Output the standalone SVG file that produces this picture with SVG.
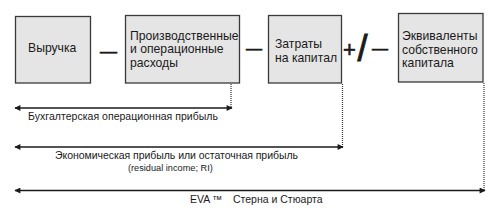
<svg xmlns="http://www.w3.org/2000/svg" width="500" height="219" viewBox="0 0 500 219">
<style>
.box{fill:#e5e5e5;stroke:#3a3a3a;stroke-width:1.3}
.bt{font-family:"Liberation Sans",Arial,sans-serif;font-size:12.2px;fill:#1a1a1a}
.lb{font-family:"Liberation Sans",Arial,sans-serif;font-size:10.5px;fill:#1a1a1a}
.op{font-family:"Liberation Sans",Arial,sans-serif;fill:#1a1a1a;stroke:#1a1a1a;stroke-width:0.6}
.dot{stroke:#333;stroke-width:1.2;stroke-dasharray:1 1;fill:none}
.ar{stroke:#1a1a1a;stroke-width:1.3;fill:none;marker-start:url(#ah);marker-end:url(#ah)}
</style>
<defs>
<marker id="ah" viewBox="0 0 10 10" refX="9" refY="5" markerWidth="8" markerHeight="6" markerUnits="userSpaceOnUse" orient="auto-start-reverse">
<path d="M0,0 L10,5 L0,10 Z" fill="#1a1a1a"/>
</marker>
</defs>
<g id="revenue">
<rect class="box" x="15.5" y="16.5" width="75" height="66.5"/>
<text class="bt" x="28" y="52">Выручка</text>
</g>
<g id="opex">
<rect class="box" x="125.5" y="15.5" width="114" height="67.5"/>
<text class="bt" x="130" y="39.5">Производственные</text>
<text class="bt" x="130" y="53">и операционные</text>
<text class="bt" x="130" y="66.5">расходы</text>
</g>
<g id="capital-cost">
<rect class="box" x="268.5" y="15.5" width="73" height="67.5"/>
<text class="bt" x="275" y="48">Затраты</text>
<text class="bt" x="275" y="61.5">на капитал</text>
</g>
<g id="equity-equivalents">
<rect class="box" x="398.5" y="13.5" width="84.5" height="68.5"/>
<text class="bt" x="402" y="40">Эквиваленты</text>
<text class="bt" x="402" y="53.5">собственного</text>
<text class="bt" x="402" y="67">капитала</text>
</g>
<g id="operators">
<text class="op" x="100" y="57" font-size="17">—</text>
<text class="op" x="246" y="53.5" font-size="16">—</text>
<text class="op" x="343" y="56.5" font-size="22">+</text>
<text class="op" x="357.5" y="61" font-size="36" style="stroke-width:0.9">/</text>
<text class="op" x="372" y="54" font-size="16">—</text>
</g>
<g id="connectors">
<line class="dot" x1="231" y1="84" x2="231" y2="108"/>
<line class="dot" x1="342.5" y1="84" x2="342.5" y2="147"/>
<line class="dot" x1="484" y1="83" x2="484" y2="190.5"/>
<line class="ar" x1="15" y1="108" x2="232" y2="108"/>
<line class="ar" x1="15" y1="147" x2="343" y2="147"/>
<line class="ar" x1="15" y1="190.5" x2="485" y2="190.5"/>
</g>
<g id="labels">
<text class="lb" x="28" y="120" textLength="190" lengthAdjust="spacing">Бухгалтерская операционная прибыль</text>
<text class="lb" x="55" y="159" textLength="243" lengthAdjust="spacing">Экономическая прибыль или остаточная прибыль</text>
<text class="lb" x="128" y="170.5" style="font-size:9.2px">(residual income; RI)</text>
<text class="lb" x="190" y="202.5">EVA<tspan x="212">™</tspan><tspan x="233">Стерна и Стюарта</tspan></text>
</g>
</svg>
